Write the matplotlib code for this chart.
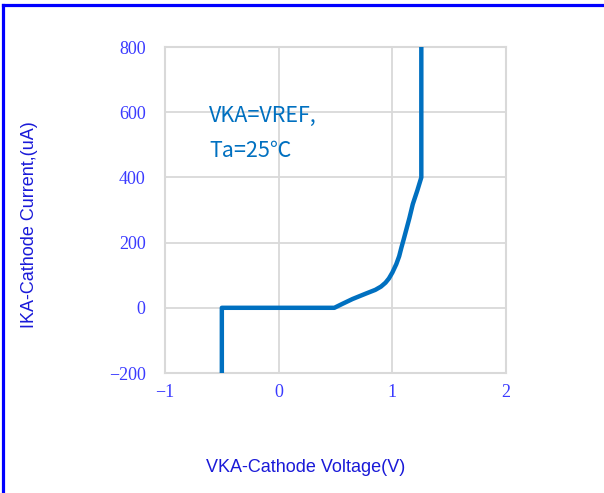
import matplotlib
matplotlib.use("Agg")
import matplotlib.pyplot as plt
from matplotlib.patches import Rectangle
from matplotlib.lines import Line2D

# Data
voltage = [-0.5, -0.5, 0.49, 0.56, 0.65, 0.77, 0.85, 0.90, 0.94, 0.97, 1.0, 1.035, 1.06,
           1.08, 1.10, 1.12, 1.15, 1.18, 1.22, 1.255, 1.255]
current = [-200, 0, 0, 12, 27, 44, 55, 65, 77, 90, 108, 134, 158,
           185, 210, 236, 275, 318, 360, 400, 800]
x_ticks = [-1, 0, 1, 2]
y_ticks = [-200, 0, 200, 400, 600, 800]
x_label = "VKA-Cathode Voltage(V)"
y_label = "IKA-Cathode Current,(uA)"
note_lines = ["VKA=VREF,", "Ta=25℃"]

W, H = 604, 493
fig = plt.figure(figsize=(W / 100, H / 100), dpi=100)
ax = fig.add_axes([165 / W, 1 - 373 / H, (506 - 165) / W, (373 - 47) / H])

grid_c = "#d9d9d9"
ax.set_xlim(-1, 2)
ax.set_ylim(-200, 800)
ax.set_xticks(x_ticks)
ax.set_yticks(y_ticks)
ax.grid(True, color=grid_c, lw=1.3, zorder=0)
for s in ax.spines.values():
    s.set_color(grid_c)
    s.set_linewidth(1.5)
ax.tick_params(length=0, labelcolor="#3a3aff", labelsize=13)
ax.tick_params(axis="y", pad=14)
ax.tick_params(axis="x", pad=8)
for lab in ax.get_xticklabels() + ax.get_yticklabels():
    lab.set_fontfamily("Liberation Serif")

# white box behind annotation (covers grid)
ax.add_patch(Rectangle(((177 - 165) / 341, (373 - 187) / 326), (350 - 177) / 341, (187 - 79) / 326,
                       transform=ax.transAxes, facecolor="white", edgecolor="none", zorder=1))

ax.plot(voltage, current, color="#0070C0", lw=3.2, zorder=3, solid_joinstyle="round")

fam = ["Noto Sans CJK SC", "DejaVu Sans"]
fig.text(209 / W, 1 - 122 / H, note_lines[0], color="#0070C0", fontsize=15.5, family=fam, va="baseline")
fig.text(209 / W, 1 - 157 / H, note_lines[1], color="#0070C0", fontsize=15.5, family=fam, va="baseline")

lab_c = "#1a1ad8"
fig.text(306 / W, 1 - 468 / H, x_label, color=lab_c, fontsize=13, family="Liberation Sans",
         ha="center", va="center")
fig.text(30 / W, 1 - 225 / H, y_label, color=lab_c, fontsize=13, family="Liberation Sans",
         ha="center", va="center", rotation=90)

# blue border on left and top
fig.add_artist(Line2D([3 / W, 3 / W], [0, 1 - 4.5 / H], transform=fig.transFigure, color="#0000ff", lw=2.3))
fig.add_artist(Line2D([3 / W, 1], [1 - 4.5 / H, 1 - 4.5 / H], transform=fig.transFigure, color="#0000ff", lw=2.3))

fig.savefig("out.png", dpi=100)
